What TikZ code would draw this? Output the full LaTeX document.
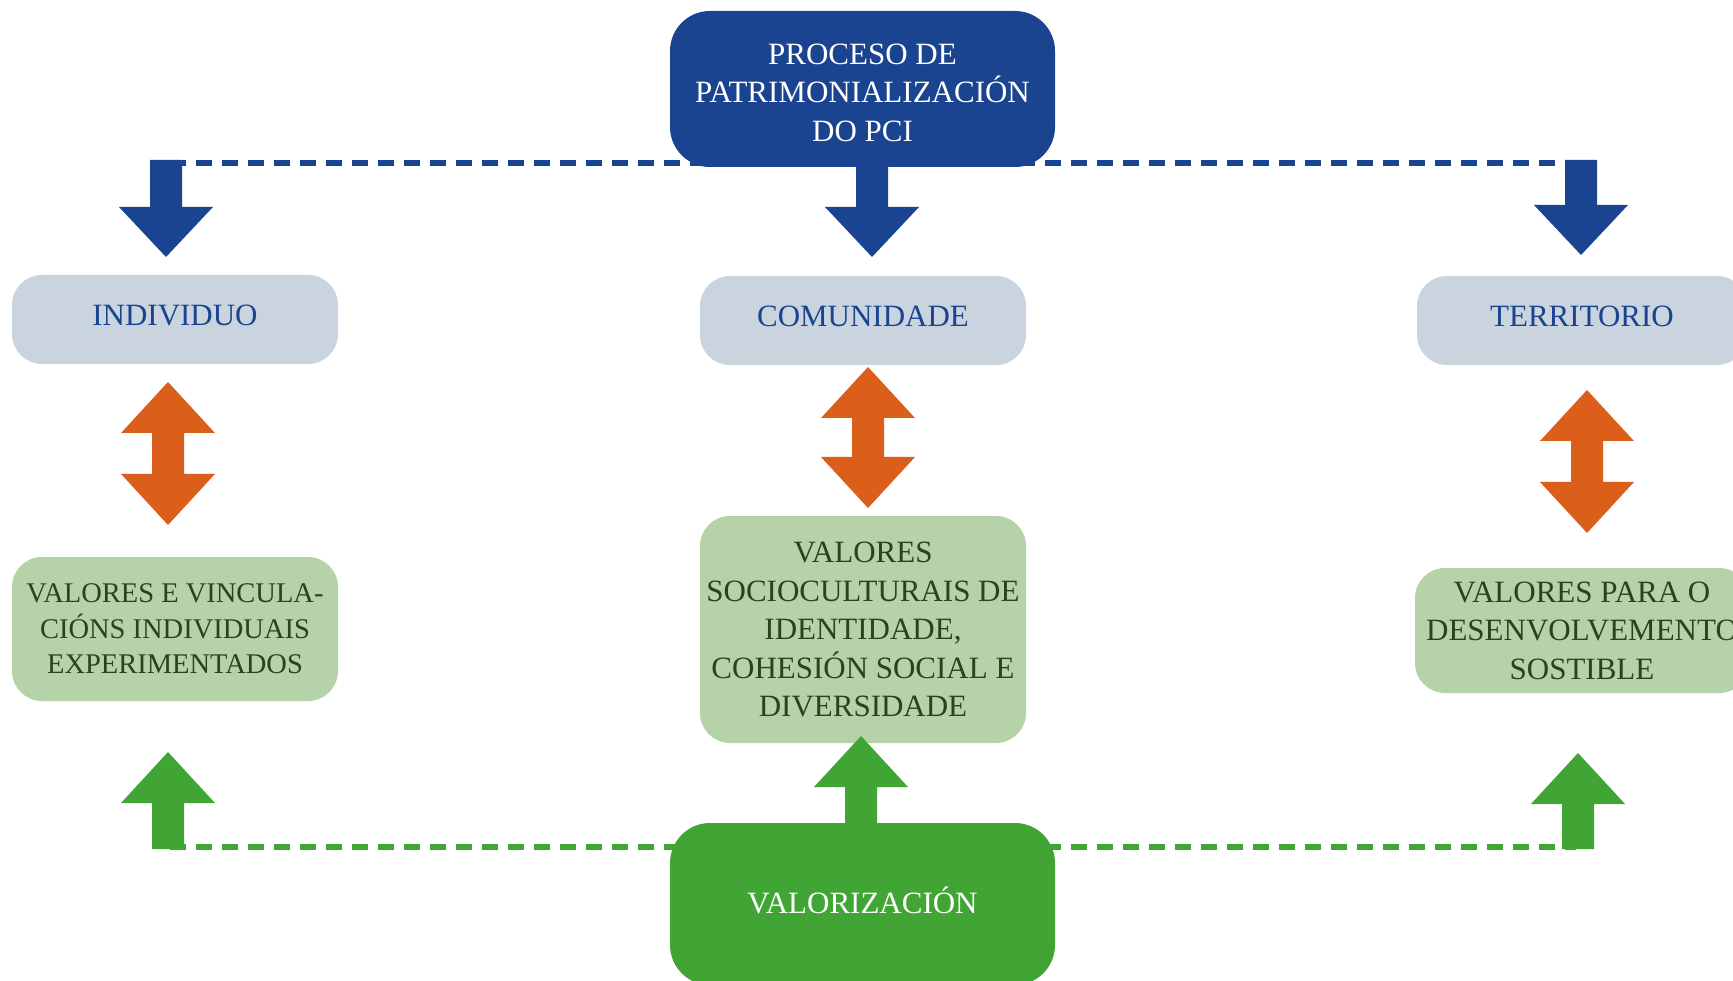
\documentclass[tikz,border=0pt]{standalone}
\usepackage{fontspec}
\setmainfont{Liberation Serif}
\definecolor{pblue}{RGB}{26,68,144}
\definecolor{porange}{RGB}{219,94,26}
\definecolor{pgreen}{RGB}{65,165,53}
\definecolor{lgreen}{RGB}{182,210,169}
\definecolor{lgrey}{RGB}{201,212,222}
\definecolor{dgreen}{RGB}{40,68,30}
% block arrows: colour, centre x, y values
\newcommand\dnblk[4]{\fill[#1] (#2-16,#3) -- (#2+16,#3) -- (#2+16,#4-50) -- (#2+47,#4-50) -- (#2,#4) -- (#2-47,#4-50) -- (#2-16,#4-50) -- cycle;}
\newcommand\upblk[4]{\fill[#1] (#2-16,#4) -- (#2+16,#4) -- (#2+16,#3+51) -- (#2+47,#3+51) -- (#2,#3) -- (#2-47,#3+51) -- (#2-16,#3+51) -- cycle;}
\newcommand\dblblk[4]{\fill[#1] (#2,#3) -- (#2+47,#3+51) -- (#2+16,#3+51) -- (#2+16,#4-51) -- (#2+47,#4-51) -- (#2,#4) -- (#2-47,#4-51) -- (#2-16,#4-51) -- (#2-16,#3+51) -- (#2-47,#3+51) -- cycle;}
\begin{document}
\begin{tikzpicture}[x=1pt,y=-1pt,
  box/.style={inner sep=0pt, align=center, rounded corners=30pt,
    font=\fontsize{31}{38.5}\selectfont},
  greybox/.style={box, fill=lgrey, text=pblue, minimum height=89pt, text depth=8pt},
  greenbox/.style={box, fill=lgreen, text=dgreen},
  mainbox/.style={box, rounded corners=40pt, text=white, minimum width=385pt},
  bdash/.style={draw=pblue, line width=5.5pt, dash pattern=on 16pt off 10pt},
  gdash/.style={draw=pgreen, line width=5.5pt, dash pattern=on 16pt off 10pt}]
\clip (0,0) rectangle (1733,981);
\fill[white] (0,0) rectangle (1733,981);

% anchors for dashed lines
\coordinate (bl) at (170,163);
\coordinate (br) at (1580,163);
\coordinate (gl) at (170,847);
\coordinate (gr) at (1576,847);
\coordinate (topc) at (862.5,89);
\coordinate (botc) at (862.5,904);

\draw[bdash] (bl) -- (topc |- bl);
\draw[bdash] (topc |- br) -- (br);
\draw[gdash] (gl) -- (botc |- gl);
\draw[gdash] (botc |- gr) -- (gr);

% main boxes
\node[mainbox, fill=pblue, minimum height=156pt] (top) at (topc)
  {\rule{0pt}{27.5pt}PROCESO DE\\PATRIMONIALIZACIÓN\\DO PCI};
\node[mainbox, fill=pgreen, minimum height=162pt, text depth=8pt] (bot) at (botc) {VALORIZACIÓN};

% grey boxes
\node[greybox, minimum width=326pt] (ind) at (175,319.5) {INDIVIDUO};
\node[greybox, minimum width=326pt] (com) at (863,320.5) {COMUNIDADE};
\node[greybox, minimum width=330pt] (ter) at (1582,320.5) {TERRITORIO};

% green boxes
\node[greenbox, minimum width=326pt, minimum height=144pt,
  font=\fontsize{28.5}{35.5}\selectfont] (vind) at (175,629)
  {VALORES E VINCULA-\\CIÓNS INDIVIDUAIS\\EXPERIMENTADOS};
\node[greenbox, minimum width=326pt, minimum height=227pt] (vcom) at (863,629.5)
  {VALORES\\SOCIOCULTURAIS DE\\IDENTIDADE,\\COHESIÓN SOCIAL E\\DIVERSIDADE};
\node[greenbox, minimum width=334pt, minimum height=125pt] (vter) at (1582,630.5)
  {VALORES PARA O\\DESENVOLVEMENTO\\SOSTIBLE};

% blue down arrows
\dnblk{pblue}{166}{160}{257}
\dnblk{pblue}{872}{160}{257}
\dnblk{pblue}{1581}{160}{255}

% orange double arrows
\dblblk{porange}{168}{382}{525}
\dblblk{porange}{868}{367}{508}
\dblblk{porange}{1587}{390}{533}

% green up arrows
\upblk{pgreen}{168}{752}{849}
\upblk{pgreen}{861}{736}{830}
\upblk{pgreen}{1578}{753}{849}
\end{tikzpicture}
\end{document}
